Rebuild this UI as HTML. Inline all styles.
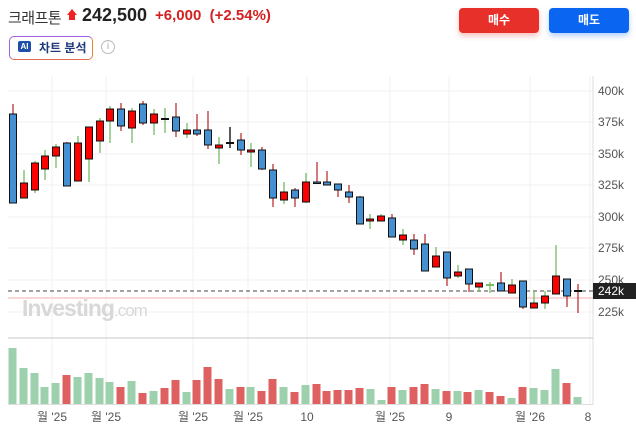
<!DOCTYPE html>
<html><head><meta charset="utf-8"><style>
body{margin:0;width:636px;height:438px;overflow:hidden;background:#fff;font-family:"Liberation Sans","Noto Sans CJK KR",sans-serif;position:relative}
.t{position:absolute;white-space:nowrap}
</style></head><body>
<div class="t" style="left:8px;top:7px;font-size:15px;color:#333;letter-spacing:-0.5px">크래프톤</div>
<div class="t" style="left:67px;top:9px;width:0;height:0;border-left:5px solid transparent;border-right:5px solid transparent;border-bottom:6px solid #e22"></div>
<div class="t" style="left:69px;top:15px;width:6px;height:5px;background:#e22"></div>
<div class="t" style="left:82px;top:5px;font-size:18px;font-weight:bold;color:#222">242,500</div>
<div class="t" style="left:155px;top:7px;font-size:15px;font-weight:bold;color:#d42020">+6,000 &nbsp;(+2.54%)</div>
<div class="t" style="left:9px;top:36px;width:82px;height:22px;border:1px solid #a060e0;border-right-color:#f08030;border-bottom-color:#e07050;border-radius:5px"></div>
<div class="t" style="left:18px;top:41px;width:13px;height:11px;background:#1e4fa8;border-radius:2px;color:#fff;font-size:8px;font-weight:bold;text-align:center;line-height:11px">AI</div>
<div class="t" style="left:39px;top:39px;font-size:12px;font-weight:bold;color:#1e3a78">차트 분석</div>
<div class="t" style="left:101px;top:40px;width:12px;height:12px;border:1px solid #bbb;border-radius:50%;color:#aaa;font-size:10px;text-align:center;line-height:12px">i</div>
<div class="t" style="left:459px;top:8px;width:80px;height:25px;background:#e8302a;border-radius:4px;color:#fff;font-size:12px;font-weight:bold;text-align:center;line-height:25px;box-shadow:0 3px 6px rgba(232,48,42,.3)">매수</div>
<div class="t" style="left:549px;top:8px;width:80px;height:25px;background:#0a66f0;border-radius:4px;color:#fff;font-size:12px;font-weight:bold;text-align:center;line-height:25px;box-shadow:0 3px 6px rgba(10,102,240,.3)">매도</div>
<svg class="t" style="left:0;top:0" width="636" height="438" xmlns="http://www.w3.org/2000/svg">
<g stroke="#f0f0f0" stroke-width="1">
<line x1="8" y1="91" x2="593" y2="91"/><line x1="8" y1="122" x2="593" y2="122"/><line x1="8" y1="154" x2="593" y2="154"/><line x1="8" y1="185" x2="593" y2="185"/><line x1="8" y1="217" x2="593" y2="217"/><line x1="8" y1="248" x2="593" y2="248"/><line x1="8" y1="280" x2="593" y2="280"/><line x1="8" y1="312" x2="593" y2="312"/>
<line x1="52" y1="76" x2="52" y2="405"/><line x1="106" y1="76" x2="106" y2="405"/><line x1="193" y1="76" x2="193" y2="405"/><line x1="248" y1="76" x2="248" y2="405"/><line x1="307" y1="76" x2="307" y2="405"/><line x1="390" y1="76" x2="390" y2="405"/><line x1="449" y1="76" x2="449" y2="405"/><line x1="530" y1="76" x2="530" y2="405"/><line x1="590" y1="76" x2="590" y2="405"/>
</g>
<line x1="593" y1="76" x2="593" y2="405" stroke="#ddd"/>
<line x1="8" y1="338" x2="593" y2="338" stroke="#c8c8c8"/>
<line x1="8" y1="404.5" x2="593" y2="404.5" stroke="#ddd"/>
<text x="22" y="316" font-size="23" font-weight="bold" fill="#d8d8d8" font-family="Liberation Sans,sans-serif" letter-spacing="-1">Investing<tspan font-weight="normal" font-size="17">.com</tspan></text>
<line x1="8" y1="298" x2="593" y2="298" stroke="#f8c8c8" stroke-width="1.5"/>
<line x1="8" y1="291" x2="593" y2="291" stroke="#444" stroke-dasharray="4,3"/>
<g font-size="12" fill="#555" font-family="Liberation Sans,sans-serif">
<text x="598" y="95">400k</text><text x="598" y="126">375k</text><text x="598" y="158">350k</text><text x="598" y="189">325k</text><text x="598" y="221">300k</text><text x="598" y="252">275k</text><text x="598" y="284">250k</text><text x="598" y="316">225k</text>
</g>
<rect x="593" y="283" width="43" height="16" fill="#222"/>
<text x="598" y="295" font-size="12" fill="#fff" font-family="Liberation Sans,sans-serif">242k</text>
<g stroke-width="1.3">
<line x1="13" y1="104" x2="13" y2="114" stroke="#b33"/><line x1="24" y1="170" x2="24" y2="198" stroke="#7b6"/><line x1="35" y1="161" x2="35" y2="193" stroke="#7b6"/><line x1="45" y1="150" x2="45" y2="180" stroke="#7b6"/><line x1="56" y1="144" x2="56" y2="168" stroke="#7b6"/><line x1="67" y1="142" x2="67" y2="186" stroke="#b33"/><line x1="78" y1="136" x2="78" y2="181" stroke="#7b6"/><line x1="89" y1="127" x2="89" y2="182" stroke="#7b6"/><line x1="100" y1="118" x2="100" y2="153" stroke="#7b6"/><line x1="110" y1="106" x2="110" y2="143" stroke="#7b6"/><line x1="121" y1="103" x2="121" y2="131" stroke="#b33"/><line x1="132" y1="108" x2="132" y2="143" stroke="#7b6"/><line x1="143" y1="101" x2="143" y2="125" stroke="#b33"/><line x1="154" y1="109" x2="154" y2="135" stroke="#7b6"/><line x1="165" y1="108" x2="165" y2="133" stroke="#7b6"/><line x1="176" y1="103" x2="176" y2="137" stroke="#b33"/><line x1="187" y1="123" x2="187" y2="138" stroke="#7b6"/><line x1="197" y1="114" x2="197" y2="136" stroke="#b33"/><line x1="208" y1="111" x2="208" y2="149" stroke="#b33"/><line x1="219" y1="137" x2="219" y2="164" stroke="#7b6"/><line x1="230" y1="127" x2="230" y2="148" stroke="#000"/><line x1="241" y1="133" x2="241" y2="155" stroke="#b33"/><line x1="251" y1="143" x2="251" y2="167" stroke="#7b6"/><line x1="262" y1="147" x2="262" y2="170" stroke="#b33"/><line x1="273" y1="164" x2="273" y2="207" stroke="#b33"/><line x1="284" y1="182" x2="284" y2="204" stroke="#7b6"/><line x1="295" y1="188" x2="295" y2="207" stroke="#b33"/><line x1="306" y1="173" x2="306" y2="203" stroke="#7b6"/><line x1="317" y1="162" x2="317" y2="183" stroke="#b33"/><line x1="327" y1="171" x2="327" y2="185" stroke="#b33"/><line x1="338" y1="184" x2="338" y2="197" stroke="#b33"/><line x1="349" y1="185" x2="349" y2="203" stroke="#b33"/><line x1="360" y1="196" x2="360" y2="224" stroke="#b33"/><line x1="370" y1="214" x2="370" y2="229" stroke="#7b6"/><line x1="381" y1="214" x2="381" y2="221" stroke="#7b6"/><line x1="392" y1="214" x2="392" y2="237" stroke="#b33"/><line x1="403" y1="229" x2="403" y2="245" stroke="#7b6"/><line x1="414" y1="234" x2="414" y2="255" stroke="#b33"/><line x1="425" y1="234" x2="425" y2="271" stroke="#b33"/><line x1="436" y1="247" x2="436" y2="267" stroke="#7b6"/><line x1="447" y1="252" x2="447" y2="286" stroke="#b33"/><line x1="458" y1="265" x2="458" y2="278" stroke="#7b6"/><line x1="469" y1="269" x2="469" y2="292" stroke="#b33"/><line x1="479" y1="283" x2="479" y2="292" stroke="#7b6"/><line x1="490" y1="282" x2="490" y2="293" stroke="#7b6"/><line x1="501" y1="272" x2="501" y2="291" stroke="#b33"/><line x1="512" y1="279" x2="512" y2="293" stroke="#7b6"/><line x1="523" y1="281" x2="523" y2="309" stroke="#b33"/><line x1="534" y1="291" x2="534" y2="308" stroke="#7b6"/><line x1="545" y1="291" x2="545" y2="309" stroke="#7b6"/><line x1="556" y1="245" x2="556" y2="294" stroke="#7b6"/><line x1="567" y1="279" x2="567" y2="307" stroke="#b33"/><line x1="578" y1="284" x2="578" y2="313" stroke="#b33"/>
</g>
<g stroke="#111" stroke-width="1">
<rect x="9.5" y="114" width="7" height="89" fill="#4590d0"/><rect x="20.5" y="183" width="7" height="15" fill="#f00"/><rect x="31.5" y="163" width="7" height="27" fill="#f00"/><rect x="41.5" y="156" width="7" height="13" fill="#f00"/><rect x="52.5" y="147" width="7" height="9" fill="#f00"/><rect x="63.5" y="143" width="7" height="43" fill="#4590d0"/><rect x="74.5" y="143" width="7" height="38" fill="#f00"/><rect x="85.5" y="127" width="7" height="32" fill="#f00"/><rect x="96.5" y="121" width="7" height="20" fill="#f00"/><rect x="106.5" y="109" width="7" height="12" fill="#f00"/><rect x="117.5" y="109" width="7" height="17" fill="#4590d0"/><rect x="128.5" y="111" width="7" height="17" fill="#f00"/><rect x="139.5" y="104" width="7" height="19" fill="#4590d0"/><rect x="150.5" y="114" width="7" height="9" fill="#f00"/><rect x="161.5" y="118.5" width="7" height="1" fill="#111"/><rect x="172.5" y="117" width="7" height="14" fill="#4590d0"/><rect x="183.5" y="130" width="7" height="4" fill="#f00"/><rect x="193.5" y="130" width="7" height="4" fill="#4590d0"/><rect x="204.5" y="130" width="7" height="15" fill="#4590d0"/><rect x="215.5" y="145" width="7" height="3" fill="#f00"/><rect x="226.5" y="142.5" width="7" height="1" fill="#111"/><rect x="237.5" y="140" width="7" height="10" fill="#4590d0"/><rect x="247.5" y="150" width="7" height="2" fill="#f00"/><rect x="258.5" y="150" width="7" height="19" fill="#4590d0"/><rect x="269.5" y="170" width="7" height="28" fill="#4590d0"/><rect x="280.5" y="192" width="7" height="8" fill="#f00"/><rect x="291.5" y="190" width="7" height="8" fill="#4590d0"/><rect x="302.5" y="182" width="7" height="20" fill="#f00"/><rect x="313.5" y="182" width="7" height="1.5" fill="#4590d0"/><rect x="323.5" y="182" width="7" height="3" fill="#4590d0"/><rect x="334.5" y="184" width="7" height="6" fill="#4590d0"/><rect x="345.5" y="192" width="7" height="5" fill="#4590d0"/><rect x="356.5" y="197" width="7" height="27" fill="#4590d0"/><rect x="366.5" y="219" width="7" height="2" fill="#f00"/><rect x="377.5" y="216" width="7" height="5" fill="#f00"/><rect x="388.5" y="218" width="7" height="19" fill="#4590d0"/><rect x="399.5" y="235" width="7" height="5" fill="#f00"/><rect x="410.5" y="240" width="7" height="9" fill="#4590d0"/><rect x="421.5" y="244" width="7" height="27" fill="#4590d0"/><rect x="432.5" y="256" width="7" height="11" fill="#f00"/><rect x="443.5" y="252" width="7" height="26" fill="#4590d0"/><rect x="454.5" y="272" width="7" height="4" fill="#f00"/><rect x="465.5" y="269" width="7" height="15" fill="#4590d0"/><rect x="475.5" y="283" width="7" height="4" fill="#f00"/><rect x="486.5" y="284.5" width="7" height="1" fill="#7b6" stroke="#7b6"/><rect x="497.5" y="283" width="7" height="8" fill="#4590d0"/><rect x="508.5" y="285" width="7" height="8" fill="#f00"/><rect x="519.5" y="281" width="7" height="26" fill="#4590d0"/><rect x="530.5" y="303" width="7" height="5" fill="#f00"/><rect x="541.5" y="296" width="7" height="7" fill="#f00"/><rect x="552.5" y="276" width="7" height="18" fill="#f00"/><rect x="563.5" y="279" width="7" height="17" fill="#4590d0"/><rect x="574.5" y="290.5" width="7" height="1" fill="#111"/>
</g>
<g>
<rect x="8.5" y="348" width="8" height="56" fill="#9dd1ae"/><rect x="19.5" y="368" width="8" height="36" fill="#9dd1ae"/><rect x="30.5" y="373" width="8" height="31" fill="#9dd1ae"/><rect x="40.5" y="387" width="8" height="17" fill="#9dd1ae"/><rect x="51.5" y="383" width="8" height="21" fill="#9dd1ae"/><rect x="62.5" y="375" width="8" height="29" fill="#df6060"/><rect x="73.5" y="377" width="8" height="27" fill="#9dd1ae"/><rect x="84.5" y="373" width="8" height="31" fill="#9dd1ae"/><rect x="95.5" y="378" width="8" height="26" fill="#9dd1ae"/><rect x="105.5" y="382" width="8" height="22" fill="#9dd1ae"/><rect x="116.5" y="387" width="8" height="17" fill="#df6060"/><rect x="127.5" y="381" width="8" height="23" fill="#9dd1ae"/><rect x="138.5" y="393" width="8" height="11" fill="#df6060"/><rect x="149.5" y="391" width="8" height="13" fill="#9dd1ae"/><rect x="160.5" y="388" width="8" height="16" fill="#df6060"/><rect x="171.5" y="380" width="8" height="24" fill="#df6060"/><rect x="182.5" y="392" width="8" height="12" fill="#9dd1ae"/><rect x="192.5" y="380" width="8" height="24" fill="#df6060"/><rect x="203.5" y="367" width="8" height="37" fill="#df6060"/><rect x="214.5" y="379" width="8" height="25" fill="#df6060"/><rect x="225.5" y="389" width="8" height="15" fill="#9dd1ae"/><rect x="236.5" y="387" width="8" height="17" fill="#df6060"/><rect x="246.5" y="387" width="8" height="17" fill="#9dd1ae"/><rect x="257.5" y="391" width="8" height="13" fill="#df6060"/><rect x="268.5" y="379" width="8" height="25" fill="#df6060"/><rect x="279.5" y="387" width="8" height="17" fill="#9dd1ae"/><rect x="290.5" y="392" width="8" height="12" fill="#df6060"/><rect x="301.5" y="385" width="8" height="19" fill="#9dd1ae"/><rect x="312.5" y="384" width="8" height="20" fill="#df6060"/><rect x="322.5" y="391" width="8" height="13" fill="#df6060"/><rect x="333.5" y="390" width="8" height="14" fill="#df6060"/><rect x="344.5" y="390" width="8" height="14" fill="#df6060"/><rect x="355.5" y="388" width="8" height="16" fill="#df6060"/><rect x="366.5" y="389" width="8" height="15" fill="#9dd1ae"/><rect x="377.5" y="400" width="8" height="4" fill="#9dd1ae"/><rect x="387.5" y="387" width="8" height="17" fill="#df6060"/><rect x="398.5" y="390" width="8" height="14" fill="#9dd1ae"/><rect x="409.5" y="387" width="8" height="17" fill="#df6060"/><rect x="420.5" y="384" width="8" height="20" fill="#df6060"/><rect x="431.5" y="389" width="8" height="15" fill="#9dd1ae"/><rect x="442.5" y="391" width="8" height="13" fill="#df6060"/><rect x="453.5" y="391" width="8" height="13" fill="#9dd1ae"/><rect x="463.5" y="392" width="8" height="12" fill="#df6060"/><rect x="474.5" y="390" width="8" height="14" fill="#9dd1ae"/><rect x="485.5" y="392" width="8" height="12" fill="#df6060"/><rect x="496.5" y="396" width="8" height="8" fill="#df6060"/><rect x="507.5" y="398" width="8" height="6" fill="#9dd1ae"/><rect x="518.5" y="387" width="8" height="17" fill="#df6060"/><rect x="529.5" y="388" width="8" height="16" fill="#9dd1ae"/><rect x="540.5" y="390" width="8" height="14" fill="#9dd1ae"/><rect x="551.5" y="369" width="8" height="35" fill="#9dd1ae"/><rect x="562.5" y="383" width="8" height="21" fill="#df6060"/><rect x="573.5" y="397" width="8" height="7" fill="#9dd1ae"/>
</g>
<g font-size="12" fill="#555" text-anchor="middle" font-family="Liberation Sans,Noto Sans CJK KR,sans-serif">
<text x="52" y="421">월 '25</text><text x="106" y="421">월 '25</text><text x="193" y="421">월 '25</text><text x="248" y="421">월 '25</text><text x="307" y="421">10</text><text x="390" y="421">월 '25</text><text x="449" y="421">9</text><text x="530" y="421">월 '26</text><text x="588" y="421">8</text>
</g>
</svg>
</body></html>
